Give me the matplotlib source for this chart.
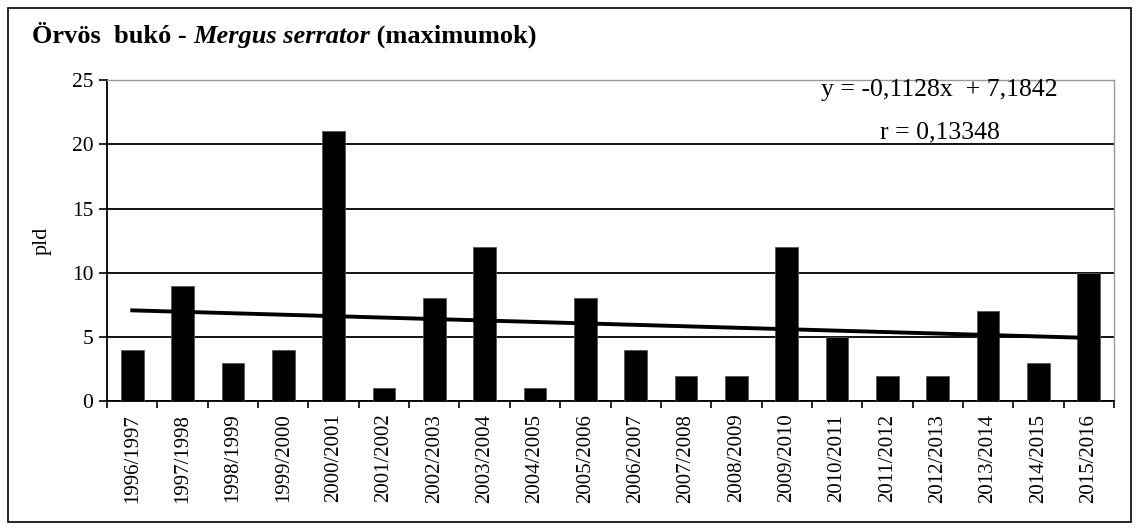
import matplotlib.pyplot as plt
from matplotlib.patches import Rectangle
import numpy as np

plt.rcParams["font.family"] = ["Liberation Serif", "DejaVu Serif"]

seasons = [
    "1996/1997", "1997/1998", "1998/1999", "1999/2000", "2000/2001",
    "2001/2002", "2002/2003", "2003/2004", "2004/2005", "2005/2006",
    "2006/2007", "2007/2008", "2008/2009", "2009/2010", "2010/2011",
    "2011/2012", "2012/2013", "2013/2014", "2014/2015", "2015/2016",
]
maxima = [4, 9, 3, 4, 21, 1, 8, 12, 1, 8, 4, 2, 2, 12, 5, 2, 2, 7, 3, 10]

# linear trend as printed on the chart
slope = -0.1128
intercept = 7.1842

fig = plt.figure(figsize=(11.39, 5.30), dpi=100)
fig.patches.append(Rectangle((0.007, 0.015), 0.986, 0.970, transform=fig.transFigure,
                             fill=False, edgecolor="black", linewidth=1.2))

ax = fig.add_axes([0.094, 0.243, 0.884, 0.606])
x = np.arange(len(seasons))
ax.bar(x, maxima, width=0.45, color="black", edgecolor="#555555", linewidth=0.6, zorder=3)

xs = x + 1
ax.plot(x, slope * xs + intercept, color="black", linewidth=2.8, zorder=4)

ax.set_xlim(-0.5, len(seasons) - 0.5)
ax.set_ylim(0, 25)
ax.set_yticks(range(0, 26, 5))
ax.yaxis.grid(True, color="black", linewidth=1.3, zorder=0)
ax.set_axisbelow(True)

ax.set_xticks(x)
ax.set_xticklabels(seasons, rotation=90, fontsize=15)
ax.tick_params(axis="x", length=0, pad=9)
ax.set_xticks(np.arange(-0.5, len(seasons)), minor=True)
ax.tick_params(axis="x", which="minor", length=5, width=1.2, direction="out")
ax.tick_params(axis="y", labelsize=15.5, length=6, width=1.2, direction="out", pad=4)

for side in ("left", "bottom"):
    ax.spines[side].set_linewidth(1.3)
for side in ("top", "right"):
    ax.spines[side].set_color("#999999")
    ax.spines[side].set_linewidth(1.0)

ax.set_ylabel("pld", fontsize=16, labelpad=14)

ax.text(0.827, 0.969, "y = -0,1128x  + 7,1842", transform=ax.transAxes,
        ha="center", va="center", fontsize=18.5)
ax.text(0.827, 0.838, "r = 0,13348", transform=ax.transAxes,
        ha="center", va="center", fontsize=18.5)

# title: common name bold, scientific name bold italic
ty = 0.919
t1 = fig.text(0.028, ty, "Örvös  bukó - ", fontsize=19, fontweight="bold", va="baseline")
t2 = fig.text(0, 0, "Mergus serrator", fontsize=19, fontweight="bold", style="italic",
              va="baseline")
t3 = fig.text(0, 0, " (maximumok)", fontsize=19, fontweight="bold", va="baseline")
fig.canvas.draw()
r = fig.canvas.get_renderer()
inv = fig.transFigure.inverted()
x1 = inv.transform((t1.get_window_extent(r).x1, 0))[0]
t2.set_position((x1, ty))
fig.canvas.draw()
x2 = inv.transform((t2.get_window_extent(r).x1, 0))[0]
t3.set_position((x2, ty))

fig.savefig("out.png", dpi=100)
